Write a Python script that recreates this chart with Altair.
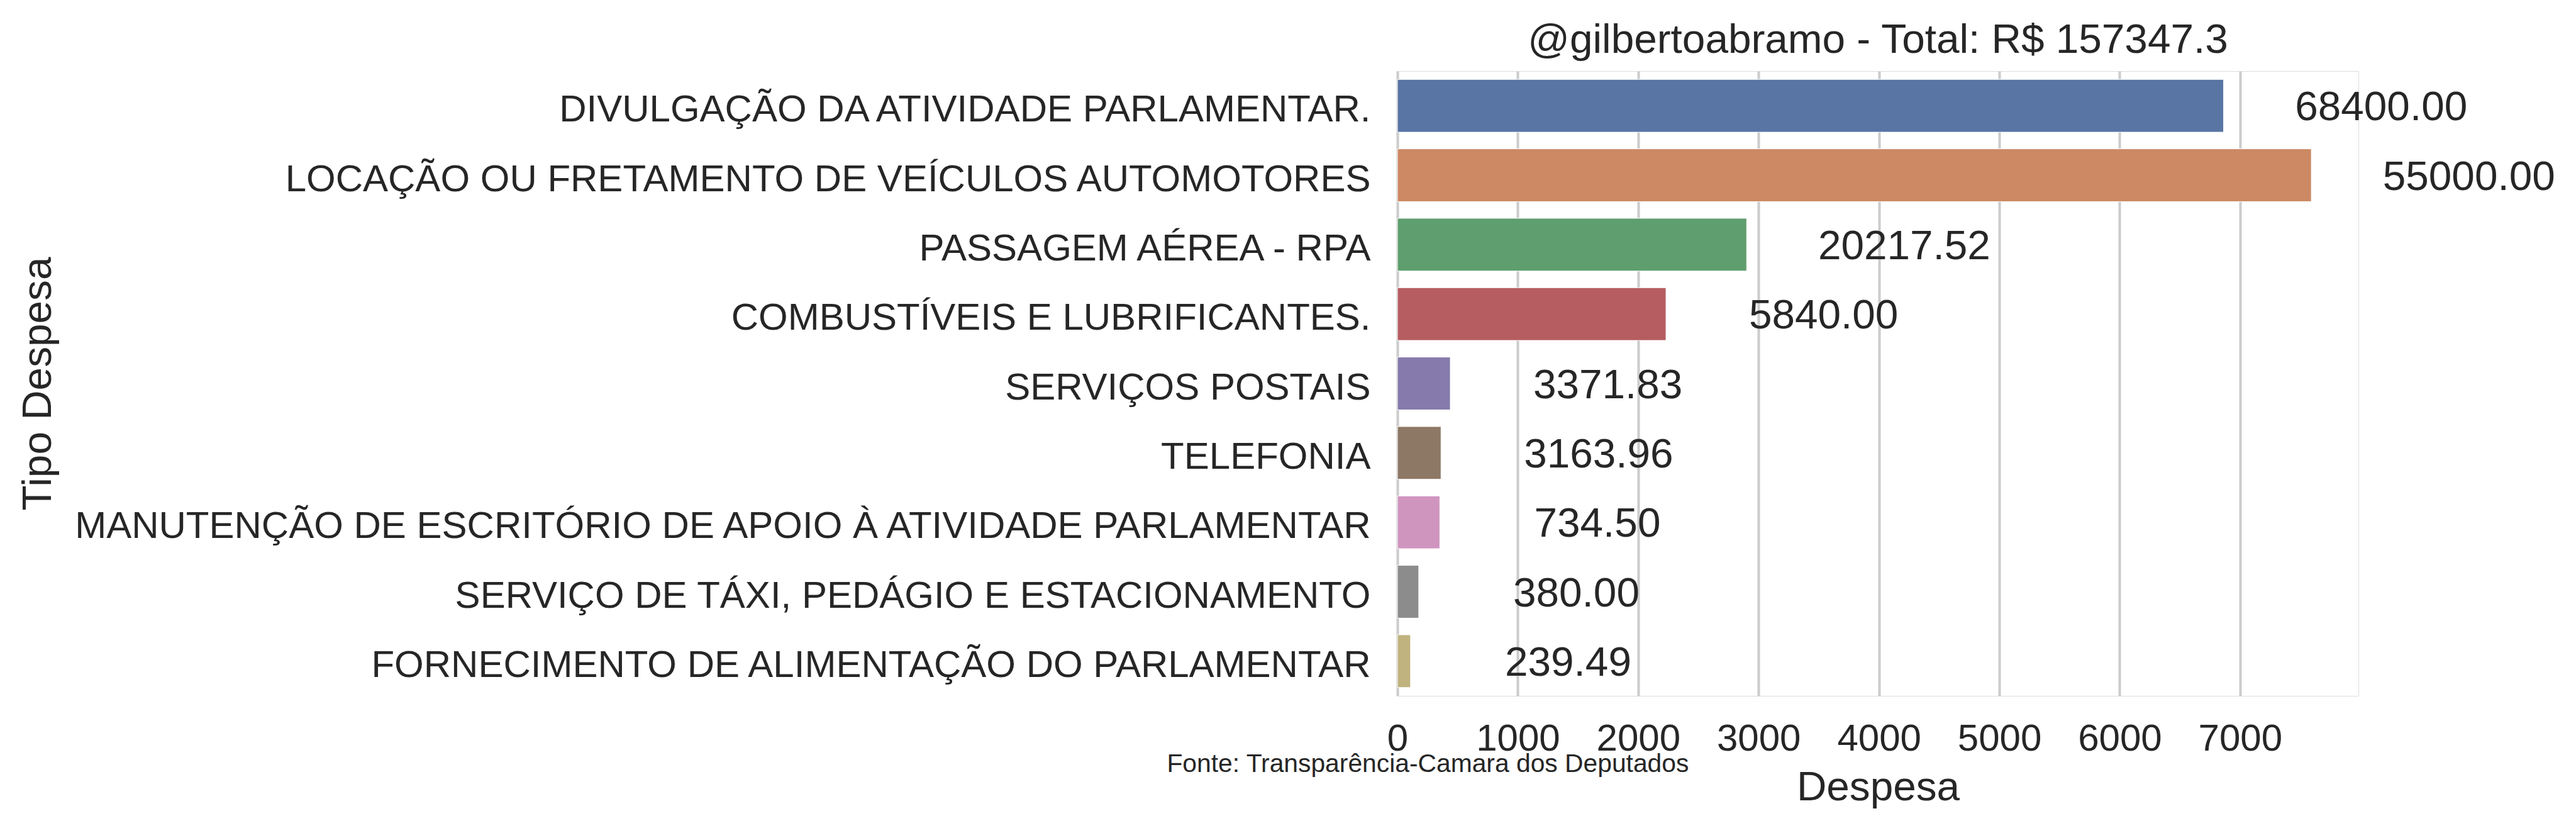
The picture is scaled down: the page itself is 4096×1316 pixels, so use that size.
import altair as alt
import pandas as pd

categories = [
    "DIVULGAÇÃO DA ATIVIDADE PARLAMENTAR.",
    "LOCAÇÃO OU FRETAMENTO DE VEÍCULOS AUTOMOTORES",
    "PASSAGEM AÉREA - RPA",
    "COMBUSTÍVEIS E LUBRIFICANTES.",
    "SERVIÇOS POSTAIS",
    "TELEFONIA",
    "MANUTENÇÃO DE ESCRITÓRIO DE APOIO À ATIVIDADE PARLAMENTAR",
    "SERVIÇO DE TÁXI, PEDÁGIO E ESTACIONAMENTO",
    "FORNECIMENTO DE ALIMENTAÇÃO DO PARLAMENTAR",
]
bar_values = [6863, 7592, 2901, 2231, 439, 362, 352, 177, 109]
total_labels = ["68400.00", "55000.00", "20217.52", "5840.00", "3371.83",
                "3163.96", "734.50", "380.00", "239.49"]
colors = ["#5975a4", "#cc8963", "#5f9e6e", "#b55d60", "#857aab",
          "#8d7866", "#d095bf", "#8c8c8c", "#c1b37f"]
x_ticks = [0, 1000, 2000, 3000, 4000, 5000, 6000, 7000]
x_max = 7983
title_text = "@gilbertoabramo - Total: R$ 157347.3"
source_text = "Fonte: Transparência-Camara dos Deputados"

FONT = "Liberation Sans"
TXT = "#262626"

df = pd.DataFrame({"cat": categories, "val": bar_values, "lab": total_labels})

W, H = 1528, 993

y_enc = alt.Y(
    "cat:N", sort=categories,
    scale=alt.Scale(paddingInner=0.24, paddingOuter=0.12),
    axis=alt.Axis(
        title="Tipo Despesa", labelFontSize=60, labelFont=FONT, labelColor=TXT,
        labelPadding=43, labelLimit=0, ticks=False, tickSize=0, domain=False,
        grid=False, labelOffset=7,
        titleFontSize=65.7, titleFont=FONT, titleColor=TXT, titleFontWeight="normal",
        titleX=-2142, titleY=H / 2, titleAngle=270, titleBaseline="alphabetic",
        titleAlign="center",
    ),
)

x_enc = alt.X(
    "val:Q",
    scale=alt.Scale(domain=[0, x_max], nice=False, zero=True),
    axis=alt.Axis(
        values=x_ticks, format="d", grid=True, gridColor="#cccccc", gridWidth=4.1,
        ticks=False, tickSize=0, domain=False, labelFontSize=60, labelFont=FONT,
        labelColor=TXT, labelPadding=86.8, labelBaseline="alphabetic",
        labelFlush=False, labelOverlap=False,
        title="Despesa", titleFontSize=65.7, titleFont=FONT, titleColor=TXT,
        titleFontWeight="normal", titleX=W / 2, titleY=165.7,
        titleBaseline="alphabetic", titleAlign="center",
    ),
)

bars = alt.Chart(df).mark_bar(stroke="white", strokeWidth=1).encode(
    y=y_enc,
    x=x_enc,
    color=alt.Color("cat:N", sort=categories,
                    scale=alt.Scale(domain=categories, range=colors), legend=None),
)

labels = alt.Chart(df).mark_text(
    align="center", baseline="middle", dx=250.6, dy=3,
    fontSize=65.7, font=FONT, color=TXT,
).encode(y=alt.Y("cat:N", sort=categories), x="val:Q", text="lab:N")

source = alt.Chart(pd.DataFrame({"t": [source_text]})).mark_text(
    align="left", baseline="alphabetic", fontSize=40.8, font=FONT, color=TXT,
).encode(x=alt.value(-366.6), y=alt.value(1114.2), text="t:N")

title = alt.Chart(pd.DataFrame({"t": [title_text]})).mark_text(
    align="center", baseline="alphabetic", fontSize=65.7, font=FONT, color=TXT,
).encode(x=alt.value(W / 2), y=alt.value(-29.1), text="t:N")

chart = alt.layer(bars, labels, source, title).properties(
    width=W, height=H,
    autosize=alt.AutoSizeParams(type="none"),
    padding={"left": 2214, "top": 105, "right": 338, "bottom": 202},
).configure_view(
    stroke="#cccccc", strokeWidth=5.5,
).configure(background="white")

chart.save("out.html", embed_options={"renderer": "svg", "actions": False})
